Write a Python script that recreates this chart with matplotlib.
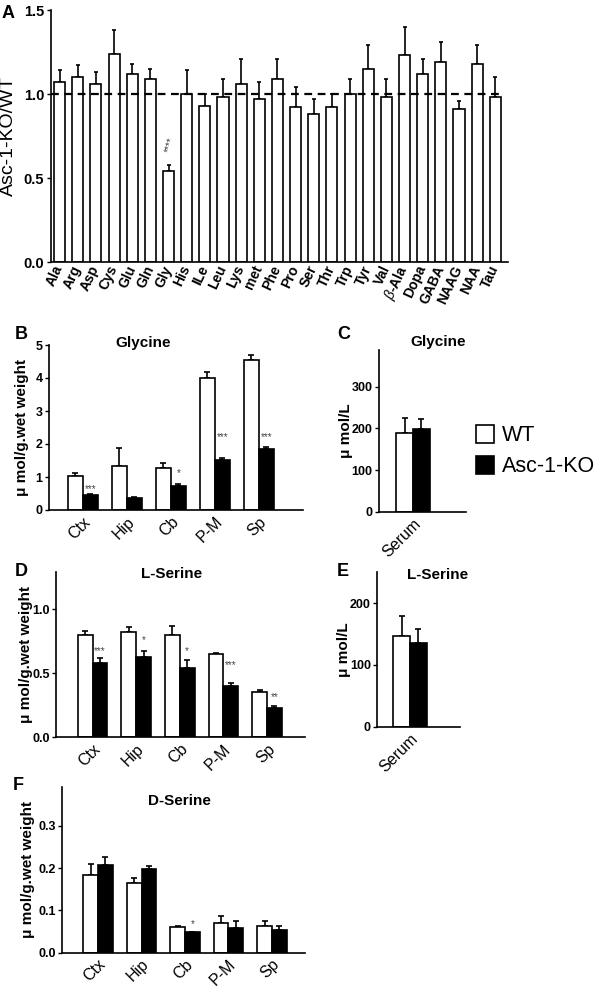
import matplotlib
matplotlib.use("Agg")
import matplotlib.pyplot as plt
from matplotlib.patches import Patch
import numpy as np

plt.rcParams['font.family'] = ['Liberation Sans', 'DejaVu Sans']
plt.rcParams['mathtext.fontset'] = 'custom'
plt.rcParams['mathtext.it'] = 'Liberation Sans:italic'

# ---- panel A: Asc-1-KO / WT ratio
aa_names = ['Ala', 'Arg', 'Asp', 'Cys', 'Glu', 'Gln', 'Gly', 'His', 'ILe', 'Leu',
            'Lys', 'met', 'Phe', 'Pro', 'Ser', 'Thr', 'Trp', 'Tyr', 'Val',
            r'$\it{\beta}$-Ala', 'Dopa', 'GABA', 'NAAG', 'NAA', 'Tau']
ratio_mean = [1.07, 1.10, 1.06, 1.24, 1.12, 1.09, 0.54, 1.00, 0.93, 0.98,
              1.06, 0.97, 1.09, 0.92, 0.88, 0.92, 1.00, 1.15, 0.98,
              1.23, 1.12, 1.19, 0.91, 1.18, 0.98]
ratio_sem = [0.07, 0.07, 0.07, 0.14, 0.06, 0.06, 0.04, 0.14, 0.07, 0.11,
             0.15, 0.10, 0.12, 0.12, 0.09, 0.08, 0.09, 0.14, 0.11,
             0.17, 0.09, 0.12, 0.05, 0.11, 0.12]

regions = ['Ctx', 'Hip', 'Cb', 'P-M', 'Sp']

# ---- panel B: glycine, tissue
gly_wt = [1.04, 1.33, 1.27, 4.00, 4.55]
gly_wt_sem = [0.07, 0.54, 0.14, 0.18, 0.15]
gly_ko = [0.44, 0.37, 0.74, 1.51, 1.84]
gly_ko_sem = [0.05, 0.03, 0.04, 0.08, 0.08]
gly_stars = ['***', '', '*', '***', '***']
gly_star_y = [0.62, 0, 1.12, 2.2, 2.2]

# ---- panel C: glycine, serum
gly_serum_wt, gly_serum_wt_sem = 189, 36
gly_serum_ko, gly_serum_ko_sem = 199, 23

# ---- panel D: L-serine, tissue
lser_wt = [0.80, 0.82, 0.80, 0.65, 0.35]
lser_wt_sem = [0.03, 0.04, 0.065, 0.01, 0.02]
lser_ko = [0.58, 0.63, 0.54, 0.40, 0.23]
lser_ko_sem = [0.035, 0.045, 0.065, 0.02, 0.015]
lser_stars = ['***', '*', '*', '***', '**']
lser_star_y = [0.67, 0.76, 0.67, 0.56, 0.31]

# ---- panel E: L-serine, serum
lser_serum_wt, lser_serum_wt_sem = 147, 32
lser_serum_ko, lser_serum_ko_sem = 135, 23

# ---- panel F: D-serine, tissue
dser_wt = [0.184, 0.164, 0.062, 0.070, 0.063]
dser_wt_sem = [0.026, 0.014, 0.002, 0.018, 0.011]
dser_ko = [0.207, 0.199, 0.048, 0.059, 0.054]
dser_ko_sem = [0.020, 0.006, 0.002, 0.015, 0.009]
dser_stars = ['', '', '*', '', '']
dser_star_y = [0, 0, 0.068, 0, 0]

W, H = 602, 989
fig = plt.figure(figsize=(W / 100, H / 100), dpi=100)

LW = 1.2
STAR_C = '#444444'
YLAB = 'μ mol/g.wet weight'


def px_axes(l, t, r, b):
    return fig.add_axes([l / W, 1 - b / H, (r - l) / W, (b - t) / H])


def style(ax, tick_size=9):
    for s in ['top', 'right']:
        ax.spines[s].set_visible(False)
    for s in ['left', 'bottom']:
        ax.spines[s].set_linewidth(LW)
    ax.tick_params(axis='y', direction='out', length=3, width=1.0,
                   labelsize=tick_size, pad=1.5)
    ax.tick_params(axis='x', length=0, pad=3)
    for lab in ax.get_yticklabels():
        lab.set_fontweight('bold')


def bars(ax, x, vals, sems, color, width, capsize):
    ax.bar(x, vals, width=width, color=color, edgecolor='k', linewidth=LW, zorder=2)
    ax.errorbar(x, vals, yerr=[np.zeros(len(vals)), sems], fmt='none', ecolor='k',
                elinewidth=LW, capsize=capsize, capthick=LW, zorder=1)


def label(x, y, s):
    fig.text(x / W, 1 - y / H, s, fontsize=13, fontweight='bold', ha='left', va='top')


def title(x, y, s):
    fig.text(x / W, 1 - y / H, s, fontsize=11, fontweight='bold', ha='center', va='center')


def tissue_panel(ax, wt, wt_sem, ko, ko_sem, stars, star_y, xlim, ylim, yticks, fmt):
    x = np.arange(len(regions))
    w = 0.34
    bars(ax, x - w / 2, wt, wt_sem, 'white', w, 2.5)
    bars(ax, x + w / 2, ko, ko_sem, 'black', w, 2.5)
    for xi, s, sy in zip(x, stars, star_y):
        if s:
            ax.text(xi + w / 2, sy, s, ha='center', va='center', fontsize=7, color=STAR_C)
    ax.set_xlim(*xlim)
    ax.set_ylim(*ylim)
    ax.set_yticks(yticks)
    ax.set_yticklabels([fmt.format(v) for v in yticks])
    ax.set_xticks(x)
    ax.set_xticklabels(regions, rotation=45, ha='right', va='top',
                       rotation_mode='anchor', fontsize=11.5)
    style(ax)


def serum_panel(ax, wt, wt_sem, ko, ko_sem, xlim, ylim, yticks):
    w = 0.38
    bars(ax, [-w / 2], [wt], [wt_sem], 'white', w, 2.5)
    bars(ax, [w / 2], [ko], [ko_sem], 'black', w, 2.5)
    ax.set_xlim(*xlim)
    ax.set_ylim(*ylim)
    ax.set_yticks(yticks)
    ax.set_xticks([0])
    ax.set_xticklabels(['Serum'], rotation=45, ha='right', va='top',
                       rotation_mode='anchor', fontsize=11.5)
    style(ax)


# ---------------- A
axA = px_axes(50.5, 10, 508, 262)
xa = np.arange(len(aa_names))
axA.bar(xa, ratio_mean, width=0.61, color='white', edgecolor='k', linewidth=LW, zorder=2)
axA.errorbar(xa, ratio_mean, yerr=[np.zeros(len(xa)), ratio_sem], fmt='none', ecolor='k',
             elinewidth=LW, capsize=1.5, capthick=LW, zorder=1)
axA.hlines(1.0, -0.5, 24.45, colors='k', linestyles=(0, (3.5, 2.5)), linewidth=1.6, zorder=3)
axA.set_xlim(-0.5, 24.7)
axA.set_ylim(0, 1.5)
axA.set_yticks([0, 0.5, 1.0, 1.5])
axA.set_yticklabels(['0.0', '0.5', '1.0', '1.5'])
axA.set_xticks(xa)
axA.set_xticklabels(aa_names, rotation=65, ha='right', va='center',
                    rotation_mode='anchor', fontsize=10, fontweight='bold')
axA.text(6.1, 0.7, '****', rotation=75, ha='center', va='center', fontsize=7, color=STAR_C)
axA.set_ylabel('Asc-1-KO/WT', fontsize=14, va='center')
axA.yaxis.set_label_coords(-42 / 457.5, 0.5)
style(axA, tick_size=10.5)
label(2, 5, 'A')

# ---------------- B
axB = px_axes(49, 345, 303, 510)
tissue_panel(axB, gly_wt, gly_wt_sem, gly_ko, gly_ko_sem, gly_stars, gly_star_y,
             (-0.77, 5.0), (0, 5), [0, 1, 2, 3, 4, 5], '{:d}')
axB.set_ylabel(YLAB, fontsize=11, fontweight='bold', va='center')
axB.yaxis.set_label_coords(-27 / 254, 0.5)
title(143, 343, 'Glycine')
label(15, 326, 'B')

# ---------------- C
axC = px_axes(379, 350, 466, 512)
serum_panel(axC, gly_serum_wt, gly_serum_wt_sem, gly_serum_ko, gly_serum_ko_sem,
            (-0.77, 1.2), (0, 388), [0, 100, 200, 300])
axC.set_ylabel('μ mol/L', fontsize=11, fontweight='bold', va='center')
axC.yaxis.set_label_coords(-33 / 87, 0.5)
title(438, 342, 'Glycine')
label(337, 326, 'C')

# legend
handles = [Patch(facecolor='white', edgecolor='k', linewidth=LW),
           Patch(facecolor='black', edgecolor='k', linewidth=LW)]
fig.legend(handles, ['WT', 'Asc-1-KO'], loc='upper left',
           bbox_to_anchor=(461 / W, 1 - 410 / H), frameon=False, fontsize=15.5,
           handlelength=0.85, handleheight=0.9, handletextpad=0.35,
           labelspacing=0.45, borderpad=0.2)

# ---------------- D
axD = px_axes(56, 572, 305, 737.3)
tissue_panel(axD, lser_wt, lser_wt_sem, lser_ko, lser_ko_sem, lser_stars, lser_star_y,
             (-0.84, 4.87), (0, 1.29), [0.0, 0.5, 1.0], '{:.1f}')
axD.set_ylabel(YLAB, fontsize=11, fontweight='bold', va='center')
axD.yaxis.set_label_coords(-30 / 249, 0.5)
title(172, 574, 'L-Serine')
label(15, 563, 'D')

# ---------------- E
axE = px_axes(377, 571.7, 460, 726.7)
serum_panel(axE, lser_serum_wt, lser_serum_wt_sem, lser_serum_ko, lser_serum_ko_sem,
            (-0.75, 1.14), (0, 251), [0, 100, 200])
axE.set_ylabel('μ mol/L', fontsize=11, fontweight='bold', va='center')
axE.yaxis.set_label_coords(-33 / 83, 0.5)
title(438, 575, 'L-Serine')
label(337, 563, 'E')

# ---------------- F
axF = px_axes(62, 786.7, 305, 952.7)
tissue_panel(axF, dser_wt, dser_wt_sem, dser_ko, dser_ko_sem, dser_stars, dser_star_y,
             (-0.83, 4.76), (0, 0.393), [0.0, 0.1, 0.2, 0.3], '{:.1f}')
axF.set_ylabel(YLAB, fontsize=11, fontweight='bold', va='center')
axF.yaxis.set_label_coords(-34 / 243, 0.5)
title(179, 801, 'D-Serine')
label(13, 777, 'F')

fig.savefig('out.png', dpi=100)
